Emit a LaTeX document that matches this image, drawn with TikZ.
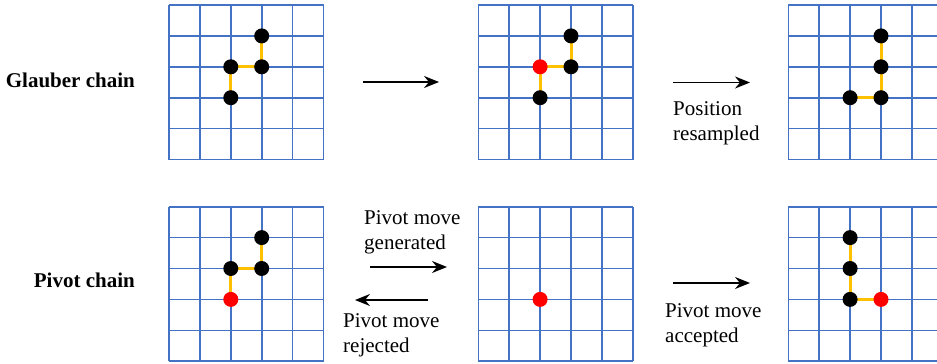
\documentclass[tikz,border=0pt]{standalone}
\usepackage{fontspec}
\setmainfont{Liberation Serif}
\usetikzlibrary{arrows.meta}
\definecolor{gridblue}{HTML}{4472C4}
\definecolor{bondorange}{HTML}{FFC000}
\definecolor{dotred}{HTML}{FF0000}
\tikzset{
  lattice/.style={draw=gridblue, line width=1.6pt},
  bond/.style={draw=bondorange, line width=3pt},
  site/.style={circle, fill=black, minimum size=15pt, inner sep=0pt},
  pivotsite/.style={site, fill=dotred},
  move/.style={-{Stealth[length=15pt,width=12pt,inset=5pt]}, line width=1.5pt},
  lbl/.style={font=\fontsize{21}{25}\selectfont, align=left, inner sep=0pt},
  rowlbl/.style={font=\bfseries\fontsize{21}{25}\selectfont, inner sep=0pt},
}
\newcommand\drawlattice[2]{%
  \foreach \k in {0,...,5}{%
    \draw[lattice] ({#1+\k*30.9},#2) -- ({#1+\k*30.9},{#2+154.5});
    \draw[lattice] (#1,{#2+\k*30.9}) -- ({#1+154.5},{#2+\k*30.9});
  }%
}
\begin{document}
\begin{tikzpicture}[x=1pt,y=-1pt]
\useasboundingbox (0,0) rectangle (937,364);
\clip (0,0) rectangle (937,364);
\fill[white] (0,0) rectangle (937,364);

% lattices
\drawlattice{169}{5}
\drawlattice{478.3}{5}
\drawlattice{788.3}{5}
\drawlattice{169}{206.7}
\drawlattice{478.3}{206.7}
\drawlattice{788.3}{206.7}

% row labels
\node[rowlbl, anchor=base east] (glauber) at (135,87) {Glauber chain};
\node[rowlbl, anchor=base east] (pivot) at (135,287) {Pivot chain};

% sites (lattice vertices)
\coordinate (a1) at ({169+3*30.9},{5+1*30.9});
\coordinate (a2) at ({169+3*30.9},{5+2*30.9});
\coordinate (a3) at ({169+2*30.9},{5+2*30.9});
\coordinate (a4) at ({169+2*30.9},{5+3*30.9});
\coordinate (b1) at ({478.3+3*30.9},{5+1*30.9});
\coordinate (b2) at ({478.3+3*30.9},{5+2*30.9});
\coordinate (b3) at ({478.3+2*30.9},{5+2*30.9});
\coordinate (b4) at ({478.3+2*30.9},{5+3*30.9});
\coordinate (c1) at ({788.3+3*30.9},{5+1*30.9});
\coordinate (c2) at ({788.3+3*30.9},{5+2*30.9});
\coordinate (c3) at ({788.3+3*30.9},{5+3*30.9});
\coordinate (c4) at ({788.3+2*30.9},{5+3*30.9});
\coordinate (d1) at ({169+3*30.9},{206.7+1*30.9});
\coordinate (d2) at ({169+3*30.9},{206.7+2*30.9});
\coordinate (d3) at ({169+2*30.9},{206.7+2*30.9});
\coordinate (d4) at ({169+2*30.9},{206.7+3*30.9});
\coordinate (e1) at ({478.3+2*30.9},{206.7+3*30.9});
\coordinate (f1) at ({788.3+2*30.9},{206.7+1*30.9});
\coordinate (f2) at ({788.3+2*30.9},{206.7+2*30.9});
\coordinate (f3) at ({788.3+2*30.9},{206.7+3*30.9});
\coordinate (f4) at ({788.3+3*30.9},{206.7+3*30.9});

% bonds
\foreach \p/\q in {a1/a2,a2/a3,a3/a4,b1/b2,b2/b3,b3/b4,c1/c2,c2/c3,c3/c4,d1/d2,d2/d3,d3/d4,f1/f2,f2/f3,f3/f4}{
  \draw[bond] (\p) -- (\q);
}
% site dots
\foreach \n in {a1,a2,a3,a4,b1,b2,b4,c1,c2,c3,c4,d1,d2,d3,f1,f2,f3}{
  \node[site] at (\n) {};
}
\foreach \n in {b3,d4,e1,f4}{
  \node[pivotsite] at (\n) {};
}

% arrows
\coordinate (m1s) at (363,82);   \coordinate (m1e) at (439,82);
\coordinate (m2s) at (673,82.5); \coordinate (m2e) at (750,82.5);
\coordinate (m3s) at (370,267);  \coordinate (m3e) at (447,267);
\coordinate (m4s) at (428,300);  \coordinate (m4e) at (355,300);
\coordinate (m5s) at (673,283);  \coordinate (m5e) at (750,283);
\draw[move] (m1s) -- (m1e);
\draw[move] (m2s) -- (m2e);
\draw[move] (m3s) -- (m3e);
\draw[move] (m4s) -- (m4e);
\draw[move] (m5s) -- (m5e);

% labels
\node[lbl, anchor=north west] (resampled) at (673,101) {Position\\resampled};
\node[lbl, anchor=north west] (generated) at (364,210) {Pivot move\\generated};
\node[lbl, anchor=north west] (rejected) at (343,313) {Pivot move\\rejected};
\node[lbl, anchor=north west] (accepted) at (665,303) {Pivot move\\accepted};
\end{tikzpicture}
\end{document}
